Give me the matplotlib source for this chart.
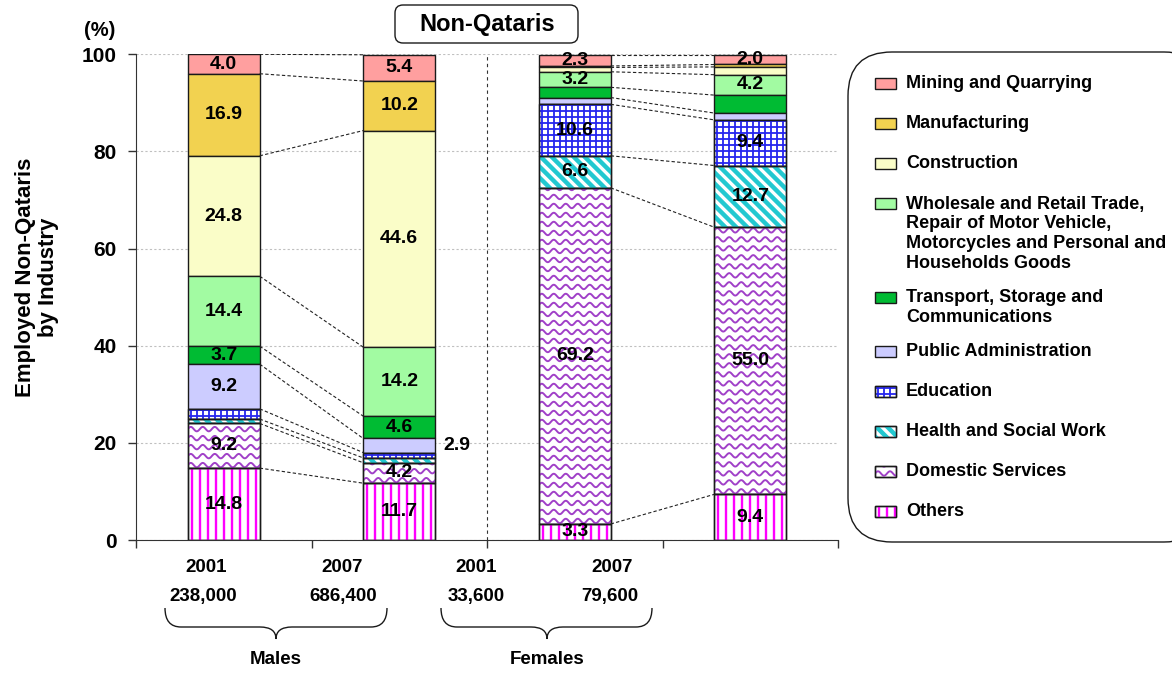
import numpy as np
import matplotlib
matplotlib.use('Agg')
import matplotlib.pyplot as plt
from matplotlib.patches import Rectangle, FancyBboxPatch, PathPatch
from matplotlib.path import Path
from matplotlib.collections import LineCollection
from matplotlib.transforms import IdentityTransform

plt.rcParams['font.family'] = ['Liberation Sans', 'DejaVu Sans']
plt.rcParams['font.weight'] = 'bold'

industries = ['Mining and Quarrying', 'Manufacturing', 'Construction',
              'Wholesale and Retail Trade,\nRepair of Motor Vehicle,\n'
              'Motorcycles and Personal and\nHouseholds Goods',
              'Transport, Storage and\nCommunications', 'Public Administration',
              'Education', 'Health and Social Work', 'Domestic Services', 'Others']
years = ['2001', '2007', '2001', '2007']
employed = ['238,000', '686,400', '33,600', '79,600']
groups = ['Males', 'Females']

# shares in %, same order as industries (top of the stack first)
males_2001 = [4.0, 16.9, 24.8, 14.4, 3.7, 9.2, 2.1, 0.9, 9.2, 14.8]
males_2007 = [5.4, 10.2, 44.6, 14.2, 4.6, 2.9, 1.1, 1.0, 4.2, 11.7]
females_2001 = [2.3, 0.3, 0.9, 3.2, 2.1, 1.4, 10.6, 6.6, 69.2, 3.3]
females_2007 = [2.0, 0.5, 1.6, 4.2, 3.7, 1.4, 9.4, 12.7, 55.0, 9.4]

# segments that get a value label
show_males = [1, 1, 1, 1, 1, 1, 0, 0, 1, 1]
show_females = [1, 0, 0, 1, 0, 0, 1, 1, 1, 1]
label_outside = (1, 5)  # males 2007, public administration

fills = ['#FF9F9F', '#F2D250', '#FAFDC8', '#A2FBA2', '#00BB33', '#CCCCFF',
         'white', 'white', 'white', 'white']
patterns = [None] * 6 + ['grid', 'stripes', 'waves', 'bars']
pattern_colors = {'grid': '#2424EE', 'stripes': '#22C8D0',
                  'waves': '#A040C8', 'bars': '#FF00FF'}
edge = '#1A1A1A'


def add_pattern(target, patch, kind):
    # fill a patch with line work drawn in pixel space, clipped to the patch
    x0, y0, x1, y1 = patch.get_window_extent().extents
    segs = []
    if kind == 'waves':
        xs = np.arange(x0 - 1, x1 + 1, 0.5)
        for yc in np.arange(y0 + 3, y1 + 3, 9):
            segs.append(np.column_stack([xs, yc + 2.2 * np.sin(2 * np.pi * (xs - x0) / 12)]))
        lw = 1.4
    elif kind == 'stripes':
        for c in np.arange(x0 + y0, x1 + y1 + 11, 11):
            segs.append([(c - y1 - 5, y1 + 5), (c - y0 + 5, y0 - 5)])
        lw = 3.2
    elif kind == 'grid':
        for x in np.arange(x0 + 3, x1, 6):
            segs.append([(x, y0), (x, y1)])
        for y in np.arange(y0 + 3, y1, 6):
            segs.append([(x0, y), (x1, y)])
        lw = 1.3
    else:
        for x in np.arange(x0 + 4, x1, 8):
            segs.append([(x, y0), (x, y1)])
        lw = 1.7
    lc = LineCollection(segs, colors=pattern_colors[kind], linewidths=lw,
                        transform=IdentityTransform(), zorder=2.2)
    target.add_collection(lc, autolim=False)
    lc.set_clip_path(patch.get_path(), patch.get_transform())


fig = plt.figure(figsize=(11.72, 6.73), dpi=100)
ax = fig.add_axes([136 / 1172, 1 - 540 / 673, 702 / 1172, (540 - 54.3) / 673])
ax.set_xlim(0, 4)
ax.set_ylim(0, 100)

data = np.array([males_2001, males_2007, females_2001, females_2007])
shown = [show_males, show_males, show_females, show_females]
stack = data[:, ::-1]              # bottom segment first
tops = np.cumsum(stack, axis=1)
bottoms = tops - stack
xpos = np.arange(4) + 0.5
width = 0.41

for k in range(len(industries)):
    j = len(industries) - 1 - k
    bars = ax.bar(xpos, stack[:, j], width, bottom=bottoms[:, j], color=fills[k],
                  edgecolor=edge, linewidth=1, zorder=2)
    if patterns[k]:
        for rect in bars:
            add_pattern(ax, rect, patterns[k])
        ax.bar(xpos, stack[:, j], width, bottom=bottoms[:, j], fill=False,
               edgecolor=edge, linewidth=1, zorder=2.4)

# dashed links between the years of each group
for a, b in [(0, 1), (2, 3)]:
    for j in range(len(industries)):
        ax.plot([xpos[a] + width / 2, xpos[b] - width / 2], [tops[a, j], tops[b, j]],
                color='#222222', lw=0.8, ls=(0, (3, 2)), zorder=3)

for i in range(4):
    for k in range(len(industries)):
        if not shown[i][k]:
            continue
        j = len(industries) - 1 - k
        val = stack[i, j]
        yc = bottoms[i, j] + val / 2
        if (i, k) == label_outside:
            ax.annotate(f'{val:.1f}', (xpos[i] + width / 2, yc), xytext=(6, 0),
                        textcoords='offset points', ha='left', va='center',
                        fontsize=14, fontweight='bold', zorder=4)
        else:
            ax.text(xpos[i], yc, f'{val:.1f}', ha='center', va='center',
                    fontsize=14, fontweight='bold', zorder=4)

ax.axvline(2, color='#333333', lw=0.8, ls=(0, (3, 3)), zorder=1)
ax.set_yticks(np.arange(0, 101, 20))
ax.set_xticks(np.arange(5))
ax.set_xticklabels([])
ax.tick_params(axis='y', length=6, width=1, pad=8, labelsize=15, color='#333333')
ax.tick_params(axis='x', length=6, width=1, color='#333333')
ax.yaxis.grid(True, color='#C0C0C0', ls=(0, (2, 2)), lw=0.8)
ax.set_axisbelow(True)
for s in ['top', 'right']:
    ax.spines[s].set_visible(False)
for s in ['left', 'bottom']:
    ax.spines[s].set_color('#333333')

# overlay in pixel coordinates for the annotations around the plot
ov = fig.add_axes([0, 0, 1, 1])
ov.set_xlim(0, 1172)
ov.set_ylim(673, 0)
ov.axis('off')

ov.add_patch(FancyBboxPatch((395, 5), 183, 38, boxstyle='round,pad=0,rounding_size=8',
                            fc='white', ec=edge, lw=1))
ov.text(487, 25, 'Non-Qataris', ha='center', va='center', fontsize=17)
ov.text(100, 31, '(%)', ha='center', va='center', fontsize=14.5)
ov.text(37, 277, 'Employed Non-Qataris\nby Industry', rotation=90, ha='center',
        va='center', fontsize=16, multialignment='center', linespacing=1.12)

for x, t in zip([206, 342, 476, 612], years):
    ov.text(x, 567, t, ha='center', va='center', fontsize=13.5)
for x, t in zip([203, 343, 476, 610], employed):
    ov.text(x, 597, t, ha='center', va='center', fontsize=13.5)


def brace(x0, x1, xm, top=608, mid=627, tip=639, r=16):
    verts = [(x0, top), (x0, mid), (x0 + r, mid), (xm - r, mid), (xm, mid), (xm, tip),
             (xm, mid), (xm + r, mid), (x1 - r, mid), (x1, mid), (x1, top)]
    codes = [Path.MOVETO, Path.CURVE3, Path.CURVE3, Path.LINETO, Path.CURVE3, Path.CURVE3,
             Path.CURVE3, Path.CURVE3, Path.LINETO, Path.CURVE3, Path.CURVE3]
    ov.add_patch(PathPatch(Path(verts, codes), fill=False, ec=edge, lw=1))


for (x0, x1, xm), g in zip([(165, 387, 276), (441, 652, 547)], groups):
    brace(x0, x1, xm)
    ov.text(xm, 660, g, ha='center', va='center', fontsize=13.5)

# legend
ov.add_patch(FancyBboxPatch((848, 52), 360, 490, boxstyle='round,pad=0,rounding_size=44',
                            fc='white', ec=edge, lw=1))
y = 83
for k, name in enumerate(industries):
    lines = name.split('\n')
    handle = Rectangle((875, y - 5.5), 21, 11, fc=fills[k], ec=edge, lw=1, zorder=2)
    ov.add_patch(handle)
    if patterns[k]:
        add_pattern(ov, handle, patterns[k])
        ov.add_patch(Rectangle((875, y - 5.5), 21, 11, fill=False, ec=edge, lw=1, zorder=2.4))
    for n, line in enumerate(lines):
        ov.text(906, y + 20 * n + 5.5, line, ha='left', va='baseline', fontsize=13)
    y += 20 * (len(lines) - 1) + (40 if len(lines) == 1 else 34)

fig.savefig('out.png', dpi=100, facecolor='white')
